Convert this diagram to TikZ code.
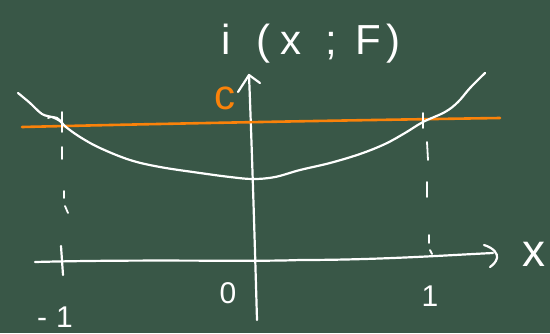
\documentclass[tikz,border=0pt]{standalone}
\usepackage{fontspec}
\setmainfont{Liberation Sans}
\definecolor{board}{RGB}{57,87,71}
\definecolor{chalkorange}{RGB}{250,130,10}
\tikzset{
  chalk/.style={white, line width=2.2pt, line cap=round, line join=round},
  thinchalk/.style={white, line width=1.8pt, line cap=round, line join=round},
  ochalk/.style={chalkorange, line width=2.6pt, line cap=round},
  lbl/.style={text=white, inner sep=0pt, font=\fontsize{30}{32}\selectfont},
}
\begin{document}
\begin{tikzpicture}[x=1pt,y=-1pt]
\fill[board] (0,0) rectangle (550,333);
\useasboundingbox (0,0) rectangle (550,333);

% horizontal axis with arrowhead
\coordinate (xl) at (35,262);
\coordinate (xr) at (493,253);
\draw[chalk] (xl) .. controls (150,259) and (250,262) .. (300,260) .. controls (380,260) and (450,255) .. (xr);
\draw[chalk] (484,245) .. controls (494,248) and (498,254) .. (497,258) .. controls (496,262) and (493,265) .. (490,267);

% vertical axis with arrowhead
\coordinate (yb) at (257,320);
\coordinate (yt) at (249,75);
\draw[chalk] (yb) .. controls (255,250) and (252,150) .. (yt);
\draw[chalk] (238,92) -- (yt) -- (260,83);

% orange level line
\coordinate (ol) at (22,127);
\coordinate (or) at (500,118);
\draw[ochalk] (ol) .. controls (150,124) and (300,121) .. (or);

% curve
\draw[chalk] plot[smooth, tension=0.6] coordinates {
 (18,93) (30,103) (42,114) (52,117) (60,121) (66,127) (80,137) (100,148)
 (130,160) (160,167) (200,173) (230,177) (253,179) (275,177) (300,170)
 (330,163) (360,154) (385,144) (405,133) (423,122) (445,112) (458,102)
 (470,88) (485,73)};
\draw[thinchalk] (48,118) .. controls (55,115) and (60,118) .. (63,125);

% ticks and dashed guides at x=-1
\draw[chalk] (61,246) -- (63,275);
\draw[thinchalk] (62,112) -- (62,132);
\draw[thinchalk] (62,147) -- (62,159);
\draw[thinchalk] (64,191) -- (64,198);
\draw[thinchalk] (65,206) -- (68,213);

% ticks and dashed guides at x=1
\draw[thinchalk] (423,113) -- (423,128);
\draw[thinchalk] (427,142) -- (428,160);
\draw[thinchalk] (427,182) -- (427,197);
\draw[thinchalk] (429,235) -- (429,243);
\draw[thinchalk] (430,250) -- (432,254);

% labels
\node[lbl] (zero) at (228,293) {0};
\node[lbl] (one) at (430,296) {1};
\node[lbl] (mone) at (55,317) {-\hspace{9pt}1};
\node[lbl, text=chalkorange, font=\fontsize{42}{44}\selectfont] (c) at (225,98) {c};
\node[lbl, font=\fontsize{46}{50}\selectfont] (xlab) at (534,254) {x};
\node[lbl, font=\fontsize{42}{46}\selectfont, anchor=base west] (ilab) at (221,54)
  {i\hspace{26pt}(\hspace{10pt}x\hspace{24pt};\hspace{18pt}F\hspace{6pt})};
\end{tikzpicture}
\end{document}
